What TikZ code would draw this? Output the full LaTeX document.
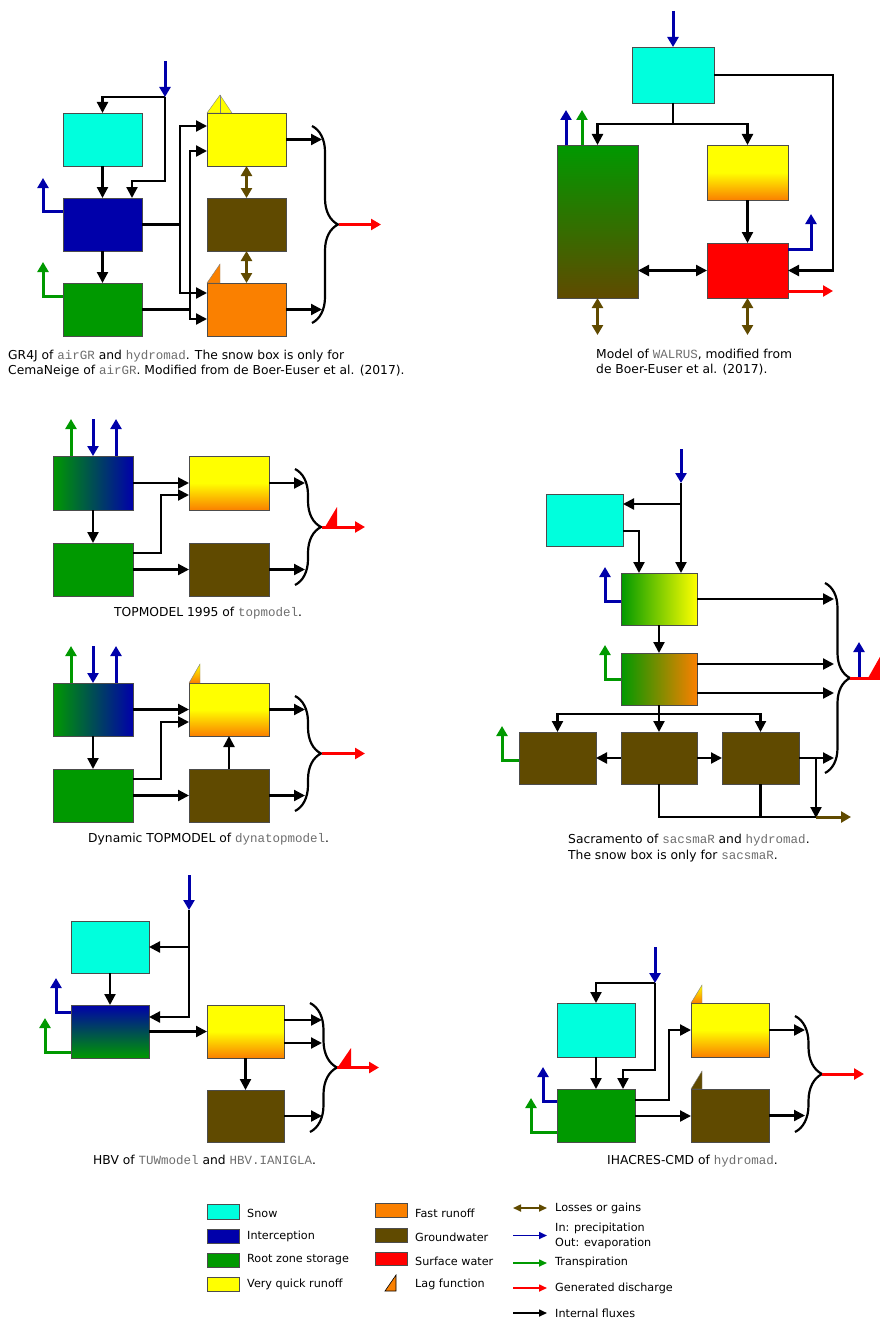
\documentclass[tikz,border=0pt]{standalone}
\usepackage{fontspec}
\setmainfont{DejaVu Sans}
\newfontfamily\monof{Liberation Mono}
\usetikzlibrary{arrows.meta,fit,decorations.pathreplacing,calc}
\definecolor{snowc}{RGB}{0,255,221}
\definecolor{icpc}{RGB}{0,0,170}
\definecolor{rootc}{RGB}{0,153,0}
\definecolor{vqc}{RGB}{255,255,0}
\definecolor{fastc}{RGB}{250,128,0}
\definecolor{gwc}{RGB}{96,74,0}
\definecolor{surfc}{RGB}{255,0,0}
\definecolor{monogray}{RGB}{110,110,110}
\newcommand\mono[1]{{\monof\fontsize{12.5}{14}\selectfont\color{monogray}#1}}
\tikzset{
  box/.style={draw=black!70, line width=0.8pt, inner sep=0pt, outer sep=0pt},
  flow/.style={draw=black, line width=2.2pt, -{Triangle[length=11pt,width=11pt]}},
  flowd/.style={draw=black, line width=2.2pt, {Triangle[length=11pt,width=11pt]}-{Triangle[length=11pt,width=11pt]}},
  plain/.style={draw=black, line width=2.2pt},
  pin/.style={draw=icpc, line width=3pt, -{Triangle[length=10pt,width=11pt]}},
  pout/.style={draw=icpc, line width=3pt, -{Triangle[length=10pt,width=11pt]}},
  tout/.style={draw=rootc, line width=3pt, -{Triangle[length=10pt,width=11pt]}},
  qout/.style={draw=surfc, line width=3pt, -{Triangle[length=10pt,width=11pt]}},
  qline/.style={draw=surfc, line width=3pt},
  lossd/.style={draw=gwc, line width=3pt, {Triangle[length=10pt,width=11pt]}-{Triangle[length=10pt,width=11pt]}},
  losso/.style={draw=gwc, line width=3pt, -{Triangle[length=10pt,width=11pt]}},
  brc/.style={draw=black, line width=2.2pt, decorate, decoration={brace,amplitude=26pt}},
  lagtri/.style={draw=black!50, line width=0.4pt},
  captxt/.style={font=\fontsize{12.3}{14}\selectfont, inner sep=0pt, anchor=base west},
  ltxt/.style={font=\fontsize{11.2}{13}\selectfont, inner sep=0pt, anchor=west, align=left},
  lg/.style={line width=1.6pt, -{Triangle[length=8pt,width=7pt]}},
  lgd/.style={line width=1.6pt, {Triangle[length=8pt,width=7pt]}-{Triangle[length=8pt,width=7pt]}}
}
\begin{document}
\begin{tikzpicture}[x=1pt,y=-1pt]
\useasboundingbox[fill=white] (0,0) rectangle (880,1319);

% ================= GR4J =================
\node[box,fill=snowc,fit={(63,113) (142,166)}] (g_snow) {};
\node[box,fill=icpc,fit={(63,198) (142,251)}] (g_int) {};
\node[box,fill=rootc,fit={(63,283) (142,336)}] (g_root) {};
\node[box,fill=vqc,fit={(207,113) (286,166)}] (g_vq) {};
\node[box,fill=gwc,fit={(207,198) (286,251)}] (g_gw) {};
\node[box,fill=fastc,fit={(207,283) (286,336)}] (g_fast) {};
\filldraw[lagtri,fill=vqc] (207,113) -- (220,95) -- (232,113) -- cycle;
\draw[lagtri] (220,95) -- (220,113);
\filldraw[lagtri,fill=fastc] (207,283) -- (220,264) -- (220,283) -- cycle;
\coordinate (g_p0) at (165,61);
\coordinate (g_p1) at (165,97);
\draw[flow] (g_p1) -| (g_snow.north);
\draw[flow] (g_p1) |- (132,181) -- (g_int.north -| 132,0);
\draw[pin] (g_p0) -- (g_p1);
\draw[flow] (g_snow.south) -- (g_int.north);
\draw[flow] (g_int.south) -- (g_root.north);
\coordinate (g_e) at (43,178);
\coordinate (g_t) at (43,262);
\draw[pout] (g_int.west |- 0,211) -| (g_e);
\draw[tout] (g_root.west |- 0,296) -| (g_t);
\draw[flow] (g_int.east) -| (180,126) -- (g_vq.west |- 0,126);
\draw[flow] (g_int.east) -| (180,293) -- (g_fast.west |- 0,293);
\draw[flow] (g_root.east) -| (190,151) -- (g_vq.west |- 0,151);
\draw[flow] (g_root.east) -| (190,319) -- (g_fast.west |- 0,319);
\draw[lossd] (g_vq.south) -- (g_gw.north);
\draw[lossd] (g_gw.south) -- (g_fast.north);
\coordinate (g_o1) at (322,139.5);
\coordinate (g_o2) at (322,309.5);
\draw[flow] (g_vq.east) -- (g_o1);
\draw[flow] (g_fast.east) -- (g_o2);
\coordinate (g_bt) at (312,126);
\coordinate (g_bb) at (312,323);
\draw[brc] (g_bt) -- (g_bb);
\coordinate (g_q0) at (339,224.5);
\coordinate (g_q1) at (381,224.5);
\draw[qout] (g_q0) -- (g_q1);
\node[captxt] (g_c1) at (8,359) {GR4J of \mono{airGR} and \mono{hydromad}. The snow box is only for};
\node[captxt] (g_c2) at (8,374) {CemaNeige of \mono{airGR}. Modified from de Boer-Euser et al. (2017).};

% ================= WALRUS =================
\node[box,fill=snowc,fit={(632,47) (714,103)}] (w_snow) {};
\node[box,top color=rootc,bottom color=gwc,fit={(557,145) (638,298)}] (w_root) {};
\node[box,top color=vqc,bottom color=fastc,middle color=vqc,fit={(707,145) (788,200)}] (w_vq) {};
\node[box,fill=surfc,fit={(707,243) (788,298)}] (w_surf) {};
\coordinate (w_p0) at (673,11);
\draw[pin] (w_p0) -- (w_snow.north);
\draw[flow] (w_snow.south) -- ++(0,21) -| (w_root.north);
\draw[flow] (w_snow.south) -- ++(0,21) -| (w_vq.north);
\draw[flow] (w_snow.east) -| (833,270.5) -- (w_surf.east);
\draw[flow] (w_vq.south) -- (w_surf.north);
\draw[flowd] (w_root.east |- w_surf.east) -- (w_surf.west);
\draw[pout] (w_root.north -| 566,0) -- ++(0,-35);
\draw[tout] (w_root.north -| 582,0) -- ++(0,-35);
\draw[pout] (w_surf.east |- 0,249) -| (811,214);
\draw[qout] (w_surf.east |- 0,291) -- ++(45,0);
\draw[lossd] (w_root.south) -- ++(0,37);
\draw[lossd] (w_surf.south) -- ++(0,37);
\node[captxt] (w_c1) at (596,358) {Model of \mono{WALRUS}, modified from};
\node[captxt] (w_c2) at (596,373) {de Boer-Euser et al. (2017).};

% ================= TOPMODEL =================
\node[box,left color=rootc,right color=icpc,fit={(53,456) (133,510)}] (t_a) {};
\node[box,fill=rootc,fit={(53,543) (133,596)}] (t_b) {};
\node[box,top color=vqc,bottom color=fastc,middle color=vqc,fit={(189,456) (269,510)}] (t_vq) {};
\node[box,fill=gwc,fit={(189,543) (269,596)}] (t_gw) {};
\draw[tout] (t_a.north -| 71,0) -- ++(0,-37);
\coordinate (t_p0) at (93,419);
\draw[pin] (t_p0) -- (t_a.north);
\draw[pout] (t_a.north -| 116,0) -- ++(0,-37);
\draw[flow] (t_a.south) -- (t_b.north);
\draw[flow] (t_a.east) -- (t_vq.west);
\draw[flow] (t_b.east |- 0,553) -| (161,495) -- (t_vq.west |- 0,495);
\draw[flow] (t_b.east) -- (t_gw.west);
\coordinate (t_o1) at (305,483);
\coordinate (t_o2) at (305,569.5);
\draw[flow] (t_vq.east) -- (t_o1);
\draw[flow] (t_gw.east) -- (t_o2);
\coordinate (t_bt) at (295,469);
\coordinate (t_bb) at (295,585);
\draw[brc] (t_bt) -- (t_bb);
\fill[surfc] (325,527) -- (337,507) -- (337,527) -- cycle;
\coordinate (t_q0) at (322,527);
\coordinate (t_q1) at (365,527);
\draw[qout] (t_q0) -- (t_q1);
\node[captxt] (t_c) at (114,616) {TOPMODEL 1995 of \mono{topmodel}.};

% ================= Dynamic TOPMODEL =================
\node[box,left color=rootc,right color=icpc,fit={(53,683) (133,736)}] (d_a) {};
\node[box,fill=rootc,fit={(53,769) (133,822)}] (d_b) {};
\node[box,top color=vqc,bottom color=fastc,middle color=vqc,fit={(189,683) (269,736)}] (d_vq) {};
\node[box,fill=gwc,fit={(189,769) (269,822)}] (d_gw) {};
\shade[top color=vqc,bottom color=fastc] (189,683) -- (200,664) -- (200,683) -- cycle;
\draw[lagtri] (189,683) -- (200,664) -- (200,683);
\draw[tout] (d_a.north -| 71,0) -- ++(0,-37);
\coordinate (d_p0) at (93,646);
\draw[pin] (d_p0) -- (d_a.north);
\draw[pout] (d_a.north -| 116,0) -- ++(0,-37);
\draw[flow] (d_a.south) -- (d_b.north);
\draw[flow] (d_a.east) -- (d_vq.west);
\draw[flow] (d_b.east |- 0,779) -| (161,722) -- (d_vq.west |- 0,722);
\draw[flow] (d_b.east) -- (d_gw.west);
\draw[flow] (d_gw.north) -- (d_vq.south);
\coordinate (d_o1) at (305,709.5);
\coordinate (d_o2) at (305,795.5);
\draw[flow] (d_vq.east) -- (d_o1);
\draw[flow] (d_gw.east) -- (d_o2);
\coordinate (d_bt) at (295,696);
\coordinate (d_bb) at (295,811);
\draw[brc] (d_bt) -- (d_bb);
\coordinate (d_q0) at (322,753.5);
\coordinate (d_q1) at (365,753.5);
\draw[qout] (d_q0) -- (d_q1);
\node[captxt] (d_c) at (88,842) {Dynamic TOPMODEL of \mono{dynatopmodel}.};

% ================= Sacramento =================
\node[box,fill=snowc,fit={(546,494) (623,546)}] (s_snow) {};
\node[box,left color=rootc,right color=vqc,fit={(621,573) (697,625)}] (s_u) {};
\node[box,left color=rootc,right color=fastc,fit={(621,653) (697,705)}] (s_l) {};
\node[box,fill=gwc,fit={(519,732) (596,784)}] (s_b1) {};
\node[box,fill=gwc,fit={(621,732) (697,784)}] (s_b2) {};
\node[box,fill=gwc,fit={(722,732) (799,784)}] (s_b3) {};
\coordinate (s_p0) at (681,449);
\coordinate (s_p1) at (681,483);
\coordinate (s_pk) at (681,504);
\draw[flow] (s_p1) -- (s_u.north -| 681,0);
\draw[flow] (s_pk) -- (s_snow.east |- 0,504);
\draw[pin] (s_p0) -- (s_p1);
\draw[flow] (s_snow.east |- 0,531) -| (s_u.north -| 639,0);
\draw[pout] (s_u.west |- 0,601) -| (605,567);
\draw[flow] (s_u.south) -- (s_l.north);
\draw[tout] (s_l.west |- 0,679) -| (605,645);
\draw[flow] (s_l.south) -- (s_b2.north);
\draw[flow] (s_l.south) -- ++(0,9) -| (s_b1.north);
\draw[flow] (s_l.south) -- ++(0,9) -| (s_b3.north);
\draw[flow] (s_b2.west) -- (s_b1.east);
\draw[flow] (s_b2.east) -- (s_b3.west);
\draw[tout] (s_b1.west |- 0,760) -| (502,726);
\coordinate (s_o1) at (834,599);
\draw[flow] (s_u.east) -- (s_o1);
\draw[flow] (s_l.east |- 0,664) -- (834,664);
\draw[flow] (s_l.east |- 0,693) -- (834,693);
\draw[flow] (s_b3.east) -- (834,758);
\coordinate (s_j) at (816,758);
\coordinate (s_k) at (816,817);
\draw[plain] (s_b2.south) |- (s_k);
\draw[plain] (s_b3.south) -- (s_b3.south |- s_k);
\draw[flow] (s_j) -- ([yshift=-1pt]s_k);
\draw[losso] (s_k) -- ++(35,0);
\coordinate (s_bt) at (825,583);
\coordinate (s_bb) at (825,773);
\draw[brc,decoration={brace,amplitude=25pt}] (s_bt) -- (s_bb);
\fill[surfc] (868,678) -- (881,655) -- (881,678) -- cycle;
\coordinate (s_q0) at (850,678);
\draw[qline] (s_q0) -- ++(32,0);
\draw[pout] (859,676.5) -- (859,642);
\node[captxt] (s_c1) at (568,843) {Sacramento of \mono{sacsmaR} and \mono{hydromad}.};
\node[captxt] (s_c2) at (568,859) {The snow box is only for \mono{sacsmaR}.};

% ================= HBV =================
\node[box,fill=snowc,fit={(71,921) (149,973)}] (h_snow) {};
\node[box,top color=icpc,bottom color=rootc,fit={(71,1005) (149,1058)}] (h_box) {};
\node[box,top color=vqc,bottom color=fastc,middle color=vqc,fit={(207,1005) (284,1058)}] (h_vq) {};
\node[box,fill=gwc,fit={(207,1090) (284,1142)}] (h_gw) {};
\coordinate (h_p0) at (189,875);
\coordinate (h_p1) at (189,910);
\coordinate (h_pk) at (189,947);
\draw[flow] (h_p1) |- (h_box.east |- 0,1017);
\draw[flow] (h_pk) -- (h_snow.east |- h_pk);
\draw[pin] (h_p0) -- (h_p1);
\draw[flow] (h_snow.south) -- (h_box.north);
\draw[pout] (h_box.west |- 0,1012) -| (56,978);
\draw[tout] (h_box.west |- 0,1052) -| (45,1018);
\draw[flow] (h_box.east) -- (h_vq.west);
\draw[flow] (h_vq.south) -- (h_gw.north);
\draw[flow] (h_vq.east |- 0,1020) -- (322,1020);
\draw[flow] (h_vq.east |- 0,1043) -- (322,1043);
\draw[flow] (h_gw.east) -- (322,1116);
\coordinate (h_bt) at (310,1003);
\coordinate (h_bb) at (310,1132);
\draw[brc,decoration={brace,amplitude=27pt}] (h_bt) -- (h_bb);
\fill[surfc] (338,1067) -- (351,1048) -- (351,1067) -- cycle;
\coordinate (h_q0) at (337,1067.5);
\coordinate (h_q1) at (379,1067.5);
\draw[qout] (h_q0) -- (h_q1);
\node[captxt] (h_c) at (93,1164) {HBV of \mono{TUWmodel} and \mono{HBV.IANIGLA}.};

% ================= IHACRES =================
\node[box,fill=snowc,fit={(557,1003) (635,1057)}] (i_snow) {};
\node[box,fill=rootc,fit={(557,1089) (635,1142)}] (i_root) {};
\node[box,top color=vqc,bottom color=fastc,middle color=vqc,fit={(691,1003) (769,1057)}] (i_vq) {};
\node[box,fill=gwc,fit={(691,1089) (769,1142)}] (i_gw) {};
\shade[top color=vqc,bottom color=fastc] (691,1003) -- (702,985) -- (702,1003) -- cycle;
\draw[lagtri] (691,1003) -- (702,985) -- (702,1003);
\filldraw[lagtri,fill=gwc] (691,1089) -- (702,1071) -- (702,1089) -- cycle;
\coordinate (i_p0) at (655,947);
\coordinate (i_p1) at (655,983);
\draw[flow] (i_p1) -| (i_snow.north);
\draw[flow] (i_p1) |- (623,1070) -- (i_root.north -| 623,0);
\draw[pin] (i_p0) -- (i_p1);
\draw[flow] (i_snow.south) -- (i_root.north);
\draw[pout] (i_root.west |- 0,1101) -| (543,1067);
\draw[tout] (i_root.west |- 0,1132) -| (531,1098);
\draw[flow] (i_root.east |- 0,1100) -| (669,1030) -- (i_vq.west);
\draw[flow] (i_root.east |- 0,1116) -- (i_gw.west |- 0,1116);
\draw[flow] (i_vq.east) -- (805,1030);
\draw[flow] (i_gw.east) -- (805,1115.5);
\coordinate (i_bt) at (795,1016);
\coordinate (i_bb) at (795,1132);
\draw[brc,decoration={brace,amplitude=27pt}] (i_bt) -- (i_bb);
\coordinate (i_q0) at (822,1074);
\coordinate (i_q1) at (864,1074);
\draw[qout] (i_q0) -- (i_q1);
\node[captxt] (i_c) at (607,1164) {IHACRES-CMD of \mono{hydromad}.};

% ================= Legend =================
\node[box,fill=snowc,fit={(207,1204) (239,1219)}] (l_snow) {};
\node[box,fill=icpc,fit={(207,1229) (239,1243)}] (l_icp) {};
\node[box,fill=rootc,fit={(207,1253) (239,1267)}] (l_root) {};
\node[box,fill=vqc,fit={(207,1277) (239,1291)}] (l_vq) {};
\node[ltxt] (lt_snow) at (247,1213) {Snow};
\node[ltxt] (lt_icp) at (247,1236) {Interception};
\node[ltxt] (lt_root) at (247,1260) {Root zone storage};
\node[ltxt] (lt_vq) at (247,1284) {Very quick runoff};
\node[box,fill=fastc,fit={(375,1203) (407,1217)}] (l_fast) {};
\node[box,fill=gwc,fit={(375,1228) (407,1242)}] (l_gw) {};
\node[box,fill=surfc,fit={(375,1252) (407,1265)}] (l_surf) {};
\filldraw[draw=black,line width=0.6pt,fill=fastc] (385,1291) -- (396,1275) -- (396,1291) -- cycle;
\node[ltxt] (lt_fast) at (415,1213) {Fast runoff};
\node[ltxt] (lt_gw) at (415,1237) {Groundwater};
\node[ltxt] (lt_surf) at (415,1261) {Surface water};
\node[ltxt] (lt_lag) at (415,1284) {Lag function};
\node[ltxt] (lt_loss) at (555,1208) {Losses or gains};
\node[ltxt] (lt_p1) at (555,1228) {In: precipitation};
\node[ltxt] (lt_p2) at (555,1243) {Out: evaporation};
\node[ltxt] (lt_tr) at (555,1262) {Transpiration};
\node[ltxt] (lt_q) at (555,1288) {Generated discharge};
\node[ltxt] (lt_int) at (555,1313) {Internal fluxes};
\draw[lgd,draw=gwc] ([xshift=-42pt]lt_loss.west) -- ([xshift=-8pt]lt_loss.west);
\draw[lg,draw=icpc] ([xshift=-42pt,yshift=-7.5pt]lt_p1.west) -- ([xshift=-8pt,yshift=-7.5pt]lt_p1.west);
\draw[lg,draw=rootc] ([xshift=-42pt,yshift=-1pt]lt_tr.west) -- ([xshift=-8pt,yshift=-1pt]lt_tr.west);
\draw[lg,draw=surfc] ([xshift=-42pt]lt_q.west) -- ([xshift=-8pt]lt_q.west);
\draw[lg,draw=black] ([xshift=-42pt]lt_int.west) -- ([xshift=-8pt]lt_int.west);
\end{tikzpicture}
\end{document}
